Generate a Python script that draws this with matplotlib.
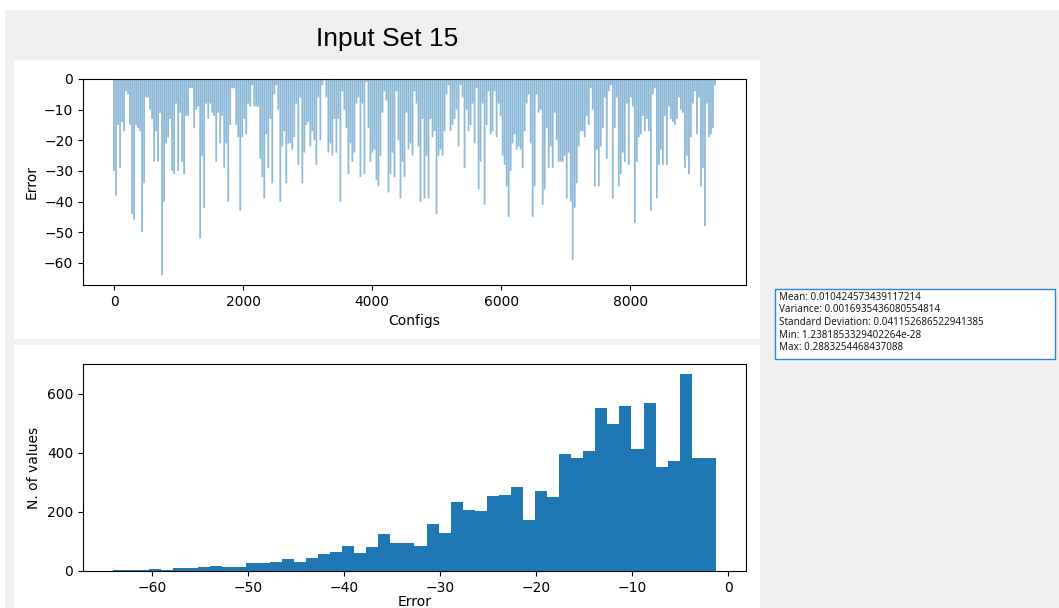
import numpy as np
import matplotlib
matplotlib.use("Agg")
from matplotlib import pyplot as plt
from matplotlib.patches import Rectangle
from matplotlib.ticker import MultipleLocator

W, H = 1059, 608
N_CONFIGS = 9340

# error per config group, left to right
errors = [
    -30, -38, -15, -29, -14, -17, -4, -5, -15, -44, -46, -15, -16, -17, -50, -34, -6, -6, -10, -13,
    -27, -17, -27, -11, -64, -40, -21, -19, -13, -30, -31, -8, -30, -11, -27, -31, -12, -12, -3, -3,
    -16, -10, -9, -52, -25, -42, -8, -13, -8, -11, -12, -27, -11, -21, -12, -29, -21, -40, -15, -3,
    -3, -15, -19, -43, -19, -13, -18, -8, -9, -2, -9, -9,
    -9, -26, -32, -39, -18, -29, -13, -34, -5, -2, -10, -40, -22, -17, -34, -21, -21, -23, -19, -8,
    -28, -6, -34, -24, -15, -14, -22, -17, -20, -28, -6, -20, -2, -0.5, -6, -24, -21, -25, -13, -24,
    -13, -40, -4, -10, -16, -31, -21, -27, -24, -8, -6, -32, -8, -31, -1, -16, -27, -24, -23, -33,
    -35, -25, -11, -4, -7, -37, -31, -24, -32, -4, -20, -39, -27, -32, -11, -23, -21,
    -25, -4, -8, -22, -40, -13, -39, -25, -39, -13, -19, -17, -44, -25, -23, -25, -17, -5, -2, -17,
    -15, -13, -10, -22, -2, -6, -29, -10, -17, -15, -8, -21, -3, -36, -27, -8, -41, -15, -4, -18,
    -17, -4, -19, -8, -12, -25, -28, -35, -45, -30, -21, -18, -23, -22, -23, -29, -17, -8, -5, -21,
    -45, -35, -5, -11, -10, -41, -36, -16, -29, -22, -29, -11, -20, -27, -27,
    -27, -25, -39, -24, -40, -59, -42, -34, -22, -17, -17, -19, -12, -15, -3, -10, -35, -23, -35, -22,
    -16, -6, -26, -4, -2, -39, -16, -6, -35, -31, -24, -27, -8, -28, -6, -9, -47, -27, -19, -18,
    -12, -17, -13, -17, -43, -5, -3, -39, -28, -23, -28, -12, -28, -9, -13, -14, -15, -13, -6, -10,
    -11, -29, -25, -31, -19, -8, -4, -18, -6, -35, -29, -48, -8, -19, -18, -16, -2,
]

# histogram of the errors (50 bins)
hist_lo, hist_hi = -64.1, -1.3
hist_counts = [
    3, 3, 3, 7, 2, 10, 10, 14, 17, 12,
    15, 26, 26, 29, 41, 32, 44, 58, 63, 86,
    60, 82, 124, 95, 95, 86, 158, 130, 234, 206,
    202, 253, 259, 285, 174, 272, 251, 395, 382, 406,
    554, 497, 560, 415, 569, 351, 374, 668, 382, 382,
]

stats = [
    "Mean: 0.010424573439117214",
    "Variance: 0.0016935436080554814",
    "Standard Deviation: 0.041152686522941385",
    "Min: 1.2381853329402264e-28",
    "Max: 0.2883254468437088",
]

fig = plt.figure(figsize=(W / 100, H / 100), dpi=100, facecolor="white")


def px_box(x0, y0, x1, y1, **kw):
    r = Rectangle((x0 / W, 1 - y1 / H), (x1 - x0) / W, (y1 - y0) / H,
                  transform=fig.transFigure, **kw)
    fig.add_artist(r)
    return r


# window background and the two plot canvases
px_box(5, 10, W, H, facecolor="#f0f0f0", edgecolor="none", zorder=-5)
px_box(14, 60, 760, 339, facecolor="white", edgecolor="none", zorder=-4)
px_box(14, 345, 760, H + 2, facecolor="white", edgecolor="none", zorder=-4)

fig.text(387 / W, 1 - 39 / H, "Input Set 15", ha="center", va="center",
         fontsize=19, family="Liberation Sans")

# per-config error
ax = fig.add_axes([83 / W, 1 - 285 / H, (746 - 83) / W, (285 - 79) / H])
step = N_CONFIGS / len(errors)
pos = np.arange(len(errors)) * step
bars = ax.bar(pos, errors, width=step * 0.9, color="#1f77b4", alpha=0.5, linewidth=0)
for b in bars:
    b.set_snap(False)
ax.xaxis.set_major_locator(MultipleLocator(2000))
ax.yaxis.set_major_locator(MultipleLocator(10))
ax.set_xlabel("Configs")
ax.set_ylabel("Error")

# error distribution
ax2 = fig.add_axes([83 / W, 1 - 571 / H, (746 - 83) / W, (571 - 364) / H])
edges = np.linspace(hist_lo, hist_hi, len(hist_counts) + 1)
centers = (edges[:-1] + edges[1:]) / 2
ax2.hist(centers, bins=edges, weights=hist_counts, color="#1f77b4")
ax2.xaxis.set_major_locator(MultipleLocator(10))
ax2.yaxis.set_major_locator(MultipleLocator(200))
ax2.set_xlabel("Error", labelpad=0)
ax2.set_ylabel("N. of values")

# statistics box
px_box(775, 289, 1055, 359, facecolor="white", edgecolor="#2b86d9", linewidth=1, zorder=-1)
for i, line in enumerate(stats):
    fig.text(779 / W, 1 - (297 + 12.75 * i) / H, line, ha="left", va="center",
             fontsize=7.1, family="Noto Sans", color="#1a1a1a")

fig.savefig("out.png", dpi=100, facecolor=fig.get_facecolor())
